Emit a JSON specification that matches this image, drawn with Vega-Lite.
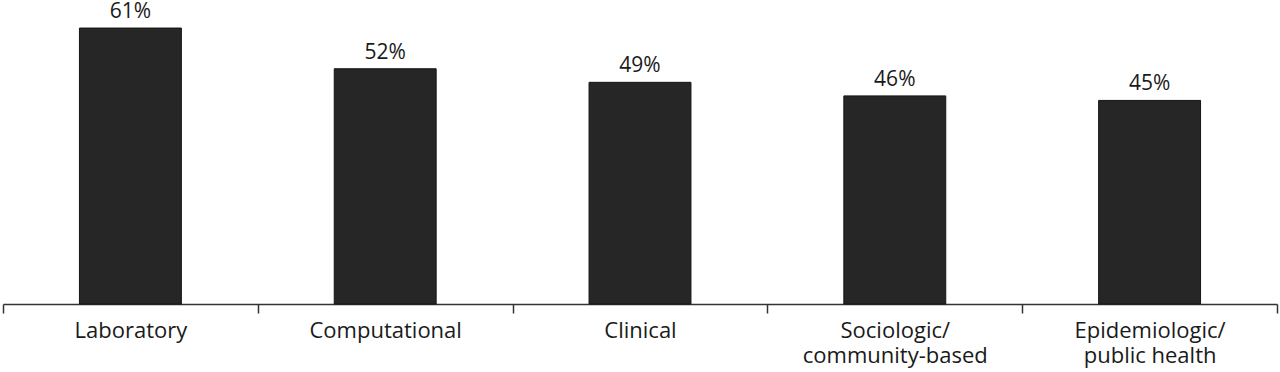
{
  "$schema": "https://vega.github.io/schema/vega-lite/v6.json",
  "width": 1274,
  "height": 304,
  "autosize": {"type": "none"},
  "padding": {"left": 3, "right": 3, "top": 0, "bottom": 68},
  "background": "white",
  "config": {"view": {"stroke": null}, "font": "Open Sans"},
  "data": {
    "values": [
      {"category": "Laboratory", "pct": 0.61},
      {"category": "Computational", "pct": 0.52},
      {"category": "Clinical", "pct": 0.49},
      {"category": "Sociologic/\ncommunity-based", "pct": 0.46},
      {"category": "Epidemiologic/\npublic health", "pct": 0.45}
    ]
  },
  "encoding": {
    "x": {
      "field": "category",
      "type": "nominal",
      "sort": null,
      "scale": {"paddingInner": 0, "paddingOuter": 0},
      "axis": {
        "title": null,
        "labelAngle": 0,
        "tickBand": "extent",
        "labelExpr": "split(datum.label, '\\n')",
        "labelFont": "Open Sans",
        "labelFontSize": 22,
        "labelColor": "#1a1a1a",
        "labelLineHeight": 25,
        "labelPadding": 7,
        "labelLimit": 400,
        "labelBaseline": "top",
        "tickSize": 9,
        "tickWidth": 1.5,
        "tickColor": "#333333",
        "domainColor": "#333333",
        "domainWidth": 1.5,
        "grid": false
      }
    },
    "y": {
      "field": "pct",
      "type": "quantitative",
      "scale": {"domain": [0, 0.672], "nice": false},
      "axis": null
    }
  },
  "layer": [
    {
      "mark": {"type": "bar", "width": {"band": 0.4}, "color": "#262626", "stroke": "#151515", "strokeWidth": 1}
    },
    {
      "mark": {"type": "text", "baseline": "alphabetic", "dy": -10, "font": "Open Sans", "fontSize": 21, "color": "#1a1a1a"},
      "encoding": {"text": {"field": "pct", "type": "quantitative", "format": ".0%"}}
    }
  ]
}
